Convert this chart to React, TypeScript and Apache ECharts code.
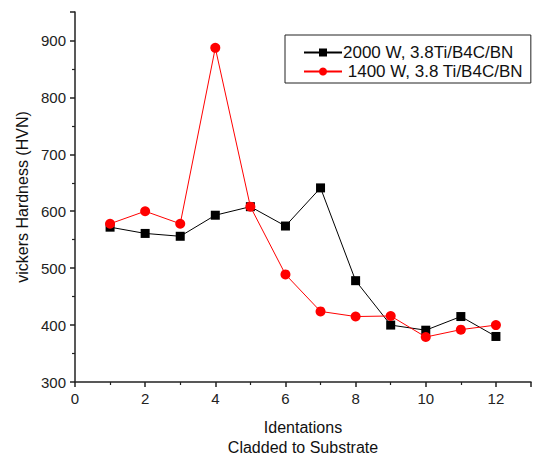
import React, { useEffect, useRef } from "react";
import * as echarts from "echarts";

const indentations = [1, 2, 3, 4, 5, 6, 7, 8, 9, 10, 11, 12];
const hv2000 = [572, 561, 556, 593, 608, 574, 641, 478, 400, 391, 415, 380];
const hv1400 = [578, 600, 578, 887, 608, 489, 424, 415, 416, 379, 392, 400];
const seriesNames = ["2000 W, 3.8Ti/B4C/BN", " 1400 W, 3.8 Ti/B4C/BN"];
const xName = "Identations\nCladded to Substrate";
const yName = "vickers Hardness (HVN)";

const FONT = "'Liberation Sans', Arial, sans-serif";

export default function App() {
  const ref = useRef<HTMLDivElement>(null);
  useEffect(() => {
    if (!ref.current) return;
    const chart = echarts.init(ref.current, undefined, { renderer: "svg" });
    const axisCommon = {
      axisLine: { show: true, lineStyle: { color: "#222", width: 1.5 } },
      axisTick: { show: true, inside: false, length: 5, lineStyle: { color: "#222", width: 1.5 } },
      minorTick: { show: true, splitNumber: 2, length: 3, lineStyle: { color: "#222", width: 1.2 } },
      splitLine: { show: false },
      axisLabel: { color: "#222", fontSize: 15, fontFamily: FONT, margin: 9 },
      nameTextStyle: { color: "#111", fontSize: 16, fontFamily: FONT },
    };
    chart.setOption({
      animation: false,
      backgroundColor: "#fff",
      grid: { left: 75, right: 11, top: 12, bottom: 72, containLabel: false, outerBoundsMode: "none" },
      legend: {
        orient: "vertical",
        left: 285,
        top: 35,
        width: 253,
        borderColor: "#222",
        borderWidth: 1,
        padding: [9, 8, 3, 18],
        itemGap: 2,
        itemWidth: 38,
        itemHeight: 10,
        textStyle: { color: "#111", fontSize: 17, fontFamily: FONT, padding: [0, 0, 0, -4] },
        data: seriesNames,
      },
      xAxis: {
        type: "value",
        min: 0,
        max: 13,
        interval: 2,
        name: xName,
        nameLocation: "middle",
        nameGap: 35,
        ...axisCommon,
        nameTextStyle: { ...axisCommon.nameTextStyle, lineHeight: 20 },
        axisLabel: {
          ...axisCommon.axisLabel,
          formatter: (v: number) => (v === 13 ? "" : String(v)),
        },
      },
      yAxis: {
        type: "value",
        min: 300,
        max: 950,
        interval: 100,
        name: yName,
        nameLocation: "middle",
        nameGap: 40,
        ...axisCommon,
        axisLabel: {
          ...axisCommon.axisLabel,
          formatter: (v: number) => (v === 950 ? "" : String(v)),
        },
      },
      series: [
        {
          name: seriesNames[0],
          type: "line",
          data: indentations.map((x, i) => [x, hv2000[i]]),
          symbol: "rect",
          symbolSize: 9,
          itemStyle: { color: "#000" },
          lineStyle: { color: "#000", width: 1 },
        },
        {
          name: seriesNames[1],
          type: "line",
          data: indentations.map((x, i) => [x, hv1400[i]]),
          symbol: "circle",
          symbolSize: 10,
          itemStyle: { color: "#f00" },
          lineStyle: { color: "#f00", width: 1 },
        },
      ],
    });
    return () => chart.dispose();
  }, []);
  return <div ref={ref} style={{ width: 542, height: 454, position: "absolute", left: 0, top: 0 }} />;
}
